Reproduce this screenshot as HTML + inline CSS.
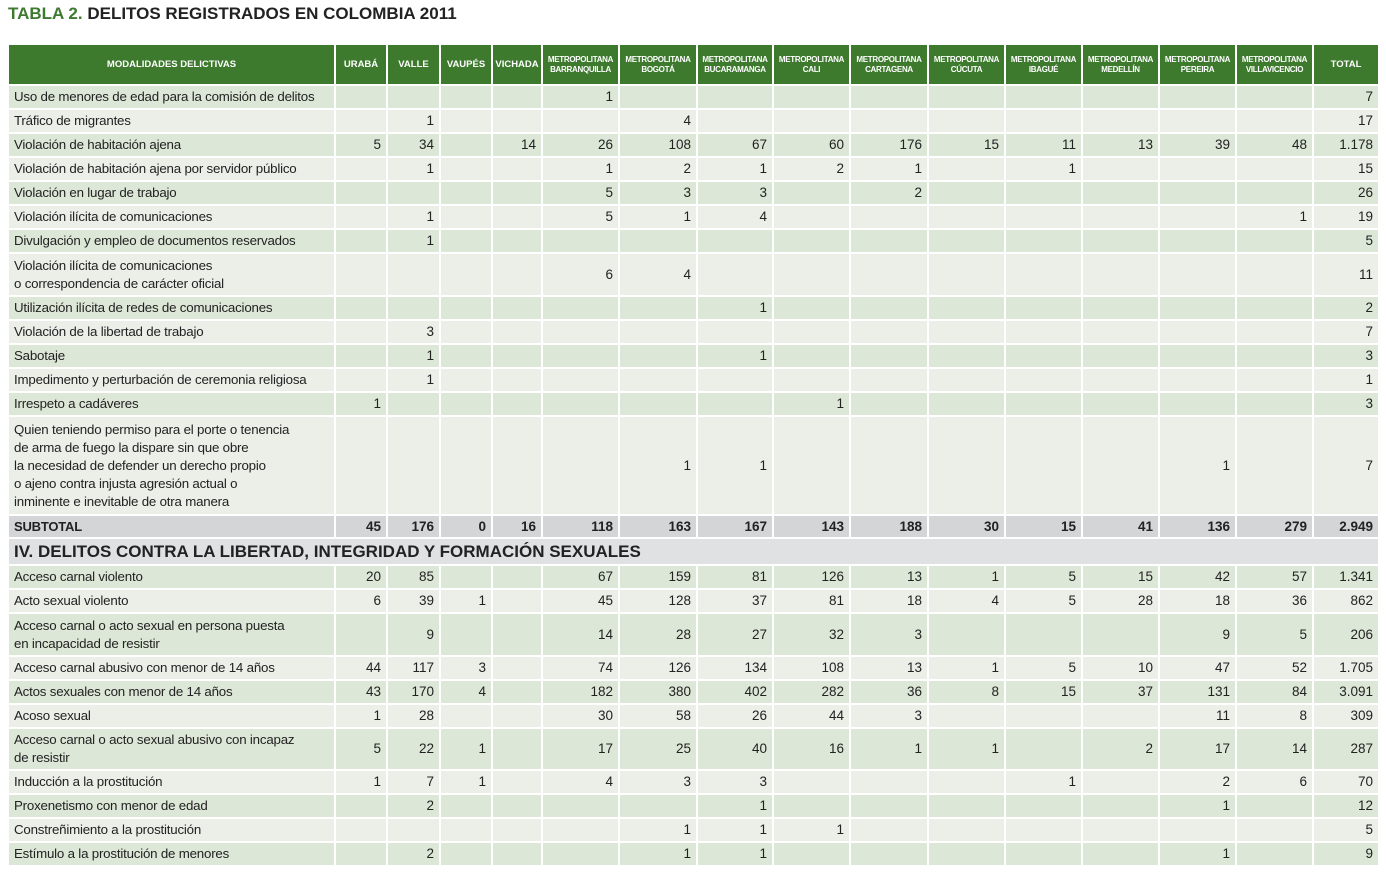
<!DOCTYPE html>
<html><head><meta charset="utf-8"><style>
body{margin:0;width:1386px;height:872px;background:#fff;font-family:"Liberation Sans",sans-serif;position:relative;overflow:hidden}
h1{position:absolute;left:8px;top:4px;margin:0;font-size:17px;font-weight:bold;color:#222;letter-spacing:0}
h1 span{color:#3d7a2e}
table{position:absolute;left:7px;top:43px;border-collapse:collapse;table-layout:fixed;width:1373px}
td{border:2px solid #fff;padding:0 5px;font-size:13.5px;color:#222;text-align:right;overflow:hidden;white-space:nowrap;line-height:18px}
td:first-child{text-align:left;font-size:13.3px;letter-spacing:-0.2px;white-space:nowrap}
tr.h td{background:#3d7a2e;color:#fff;font-weight:bold;font-size:9.5px;text-align:center;line-height:10px;padding:0 1px;letter-spacing:0}
tr.h td.s{font-size:8px;letter-spacing:-0.3px}
tr.d td{background:#dde7d7}
tr.l td{background:#ebefe8}
tr.t td{background:#d3d5d6;font-weight:bold}
tr.sec td{background:#e0e1e3;font-weight:bold;font-size:17px;letter-spacing:0}
</style></head><body>
<h1><span>TABLA 2.</span> DELITOS REGISTRADOS EN COLOMBIA 2011</h1>
<table>
<colgroup><col style="width:327px"><col style="width:52px"><col style="width:53px"><col style="width:52px"><col style="width:50px"><col style="width:77px"><col style="width:78px"><col style="width:76px"><col style="width:77px"><col style="width:78px"><col style="width:77px"><col style="width:77px"><col style="width:77px"><col style="width:77px"><col style="width:77px"><col style="width:66px"></colgroup>
<tr class="h" style="height:41px"><td style="text-align:center">MODALIDADES DELICTIVAS</td><td>URABÁ</td><td>VALLE</td><td>VAUPÉS</td><td>VICHADA</td><td class="s">METROPOLITANA<br>BARRANQUILLA</td><td class="s">METROPOLITANA<br>BOGOTÁ</td><td class="s">METROPOLITANA<br>BUCARAMANGA</td><td class="s">METROPOLITANA<br>CALI</td><td class="s">METROPOLITANA<br>CARTAGENA</td><td class="s">METROPOLITANA<br>CÚCUTA</td><td class="s">METROPOLITANA<br>IBAGUÉ</td><td class="s">METROPOLITANA<br>MEDELLÍN</td><td class="s">METROPOLITANA<br>PEREIRA</td><td class="s">METROPOLITANA<br>VILLAVICENCIO</td><td>TOTAL</td></tr>
<tr class="d" style="height:24px"><td>Uso de menores de edad para la comisión de delitos</td><td></td><td></td><td></td><td></td><td>1</td><td></td><td></td><td></td><td></td><td></td><td></td><td></td><td></td><td></td><td>7</td></tr>
<tr class="l" style="height:24px"><td>Tráfico de migrantes</td><td></td><td>1</td><td></td><td></td><td></td><td>4</td><td></td><td></td><td></td><td></td><td></td><td></td><td></td><td></td><td>17</td></tr>
<tr class="d" style="height:24px"><td>Violación de habitación ajena</td><td>5</td><td>34</td><td></td><td>14</td><td>26</td><td>108</td><td>67</td><td>60</td><td>176</td><td>15</td><td>11</td><td>13</td><td>39</td><td>48</td><td>1.178</td></tr>
<tr class="l" style="height:24px"><td>Violación de habitación ajena por servidor público</td><td></td><td>1</td><td></td><td></td><td>1</td><td>2</td><td>1</td><td>2</td><td>1</td><td></td><td>1</td><td></td><td></td><td></td><td>15</td></tr>
<tr class="d" style="height:24px"><td>Violación en lugar de trabajo</td><td></td><td></td><td></td><td></td><td>5</td><td>3</td><td>3</td><td></td><td>2</td><td></td><td></td><td></td><td></td><td></td><td>26</td></tr>
<tr class="l" style="height:24px"><td>Violación ilícita de comunicaciones</td><td></td><td>1</td><td></td><td></td><td>5</td><td>1</td><td>4</td><td></td><td></td><td></td><td></td><td></td><td></td><td>1</td><td>19</td></tr>
<tr class="d" style="height:24px"><td>Divulgación y empleo de documentos reservados</td><td></td><td>1</td><td></td><td></td><td></td><td></td><td></td><td></td><td></td><td></td><td></td><td></td><td></td><td></td><td>5</td></tr>
<tr class="l" style="height:43px"><td>Violación ilícita de comunicaciones<br>o correspondencia de carácter oficial</td><td></td><td></td><td></td><td></td><td>6</td><td>4</td><td></td><td></td><td></td><td></td><td></td><td></td><td></td><td></td><td>11</td></tr>
<tr class="d" style="height:24px"><td>Utilización ilícita de redes de comunicaciones</td><td></td><td></td><td></td><td></td><td></td><td></td><td>1</td><td></td><td></td><td></td><td></td><td></td><td></td><td></td><td>2</td></tr>
<tr class="l" style="height:24px"><td>Violación de la libertad de trabajo</td><td></td><td>3</td><td></td><td></td><td></td><td></td><td></td><td></td><td></td><td></td><td></td><td></td><td></td><td></td><td>7</td></tr>
<tr class="d" style="height:24px"><td>Sabotaje</td><td></td><td>1</td><td></td><td></td><td></td><td></td><td>1</td><td></td><td></td><td></td><td></td><td></td><td></td><td></td><td>3</td></tr>
<tr class="l" style="height:24px"><td>Impedimento y perturbación de ceremonia religiosa</td><td></td><td>1</td><td></td><td></td><td></td><td></td><td></td><td></td><td></td><td></td><td></td><td></td><td></td><td></td><td>1</td></tr>
<tr class="d" style="height:24px"><td>Irrespeto a cadáveres</td><td>1</td><td></td><td></td><td></td><td></td><td></td><td></td><td>1</td><td></td><td></td><td></td><td></td><td></td><td></td><td>3</td></tr>
<tr class="l" style="height:99px"><td>Quien teniendo permiso para el porte o tenencia<br>de arma de fuego la dispare sin que obre<br>la necesidad de defender un derecho propio<br>o ajeno contra injusta agresión actual o<br>inminente e inevitable de otra manera</td><td></td><td></td><td></td><td></td><td></td><td>1</td><td>1</td><td></td><td></td><td></td><td></td><td></td><td>1</td><td></td><td>7</td></tr>
<tr class="t" style="height:23px"><td style="font-size:13px">SUBTOTAL</td><td>45</td><td>176</td><td>0</td><td>16</td><td>118</td><td>163</td><td>167</td><td>143</td><td>188</td><td>30</td><td>15</td><td>41</td><td>136</td><td>279</td><td>2.949</td></tr>
<tr class="sec" style="height:27px"><td colspan="16" style="text-align:left;font-size:17px;letter-spacing:0">IV. DELITOS CONTRA LA LIBERTAD, INTEGRIDAD Y FORMACIÓN SEXUALES</td></tr>
<tr class="d" style="height:24px"><td>Acceso carnal violento</td><td>20</td><td>85</td><td></td><td></td><td>67</td><td>159</td><td>81</td><td>126</td><td>13</td><td>1</td><td>5</td><td>15</td><td>42</td><td>57</td><td>1.341</td></tr>
<tr class="l" style="height:24px"><td>Acto sexual violento</td><td>6</td><td>39</td><td>1</td><td></td><td>45</td><td>128</td><td>37</td><td>81</td><td>18</td><td>4</td><td>5</td><td>28</td><td>18</td><td>36</td><td>862</td></tr>
<tr class="d" style="height:43px"><td>Acceso carnal o acto sexual en persona puesta<br>en incapacidad de resistir</td><td></td><td>9</td><td></td><td></td><td>14</td><td>28</td><td>27</td><td>32</td><td>3</td><td></td><td></td><td></td><td>9</td><td>5</td><td>206</td></tr>
<tr class="l" style="height:24px"><td>Acceso carnal abusivo con menor de 14 años</td><td>44</td><td>117</td><td>3</td><td></td><td>74</td><td>126</td><td>134</td><td>108</td><td>13</td><td>1</td><td>5</td><td>10</td><td>47</td><td>52</td><td>1.705</td></tr>
<tr class="d" style="height:24px"><td>Actos sexuales con menor de 14 años</td><td>43</td><td>170</td><td>4</td><td></td><td>182</td><td>380</td><td>402</td><td>282</td><td>36</td><td>8</td><td>15</td><td>37</td><td>131</td><td>84</td><td>3.091</td></tr>
<tr class="l" style="height:24px"><td>Acoso sexual</td><td>1</td><td>28</td><td></td><td></td><td>30</td><td>58</td><td>26</td><td>44</td><td>3</td><td></td><td></td><td></td><td>11</td><td>8</td><td>309</td></tr>
<tr class="d" style="height:42px"><td>Acceso carnal o acto sexual abusivo con incapaz<br>de resistir</td><td>5</td><td>22</td><td>1</td><td></td><td>17</td><td>25</td><td>40</td><td>16</td><td>1</td><td>1</td><td></td><td>2</td><td>17</td><td>14</td><td>287</td></tr>
<tr class="l" style="height:24px"><td>Inducción a la prostitución</td><td>1</td><td>7</td><td>1</td><td></td><td>4</td><td>3</td><td>3</td><td></td><td></td><td></td><td>1</td><td></td><td>2</td><td>6</td><td>70</td></tr>
<tr class="d" style="height:24px"><td>Proxenetismo con menor de edad</td><td></td><td>2</td><td></td><td></td><td></td><td></td><td>1</td><td></td><td></td><td></td><td></td><td></td><td>1</td><td></td><td>12</td></tr>
<tr class="l" style="height:24px"><td>Constreñimiento a la prostitución</td><td></td><td></td><td></td><td></td><td></td><td>1</td><td>1</td><td>1</td><td></td><td></td><td></td><td></td><td></td><td></td><td>5</td></tr>
<tr class="d" style="height:24px"><td>Estímulo a la prostitución de menores</td><td></td><td>2</td><td></td><td></td><td></td><td>1</td><td>1</td><td></td><td></td><td></td><td></td><td></td><td>1</td><td></td><td>9</td></tr>
</table>
</body></html>
